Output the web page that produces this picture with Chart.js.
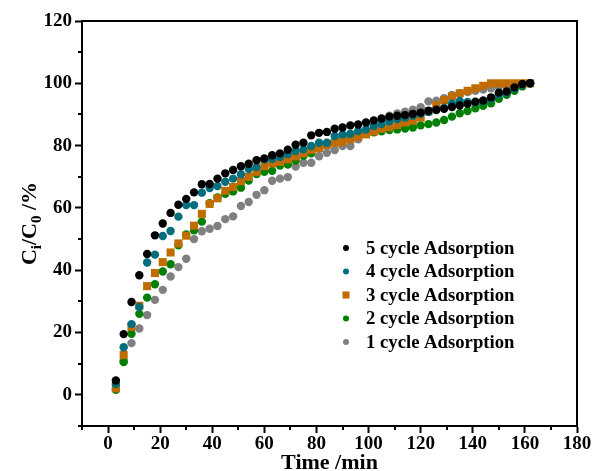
<!DOCTYPE html>
<html><head><meta charset="utf-8">
<script src="https://cdn.jsdelivr.net/npm/chart.js@4.4.0/dist/chart.umd.min.js"></script>
<style>html,body{margin:0;padding:0;background:#fff;}</style>
</head><body>
<canvas id="c" width="595" height="471" style="display:block;width:595px;height:471px"></canvas>
<script>
const times = [3,6,9,12,15,18,21,24,27,30,33,36,39,42,45,48,51,54,57,60,63,66,69,72,75,78,81,84,87,90,93,96,99,102,105,108,111,114,117,120,123,126,129,132,135,138,141,144,147,150,153,156,159,162];
const cycle5 = [4.6,19.5,29.8,38.4,45.2,51.2,55.0,58.4,61.0,62.9,65.0,67.6,67.7,69.4,71.1,72.2,73.4,74.2,75.3,75.9,76.9,77.5,78.7,80.3,80.9,83.3,84.1,84.4,85.4,85.8,86.5,86.8,87.4,88.1,88.7,89.3,89.6,89.8,90.2,90.6,91.2,91.5,91.8,92.4,92.9,93.4,94.1,94.5,95.5,97.0,97.4,98.7,99.8,100];
const cycle4 = [3.5,15.3,22.7,28.2,42.5,45.0,51.0,52.6,57.2,60.9,60.9,64.9,66.4,67.0,68.4,69.4,70.8,72.5,73.1,75.5,75.8,76.3,77.3,78.3,78.8,79.9,80.9,80.9,83.1,83.6,83.8,84.7,85.2,86.3,86.9,87.8,88.5,89.0,89.6,90.2,90.8,91.4,92.2,93.5,94.3,94.0,93.8,94.2,95.0,96.4,97.0,98.3,99.5,100];
const cycle3 = [2.1,12.8,21.8,28.6,34.9,39.1,42.6,45.7,48.6,51.1,54.3,58.1,61.3,63.1,65.5,66.7,68.6,70.0,71.6,73.4,74.3,74.8,75.6,76.5,77.5,78.6,79.1,80.2,80.9,81.2,82.0,82.9,83.6,84.5,85.4,85.9,86.6,87.4,88.0,89.0,91.0,93.0,94.6,95.8,96.8,97.6,98.4,99.2,100,100,100,100,100,100];
const cycle2 = [1.6,10.5,19.6,26.0,31.2,35.5,39.6,41.9,48.0,51.5,52.8,55.6,61.5,63.4,64.5,65.3,66.5,68.8,70.9,71.6,71.9,73.6,73.9,75.2,76.7,77.5,79.2,80.5,81.5,82.3,83.0,83.6,84.0,84.3,84.6,85.0,85.2,85.5,85.8,86.5,86.9,87.4,88.2,89.3,90.4,91.1,92.0,92.8,93.6,95.0,96.3,97.6,99.0,100];
const cycle1 = [2.0,11.0,16.6,21.3,25.6,30.5,33.7,38.0,41.0,43.7,50.0,52.5,53.3,54.2,56.4,57.3,60.6,61.9,64.2,65.7,68.7,69.4,69.9,73.3,74.5,74.5,76.6,77.7,78.6,79.9,79.9,82.0,84.5,86.5,88.3,89.6,90.3,90.9,91.5,92.3,94.2,94.4,95.2,96.3,96.8,97.2,97.6,98.0,98.4,98.8,99.1,99.4,99.7,100];
const seriesNames = ['5 cycle Adsorption','4 cycle Adsorption','3 cycle Adsorption','2 cycle Adsorption','1 cycle Adsorption'];
const xTicks = [0,20,40,60,80,100,120,140,160,180];
const yTicks = [0,20,40,60,80,100,120];
const xMinor = [-10,10,30,50,70,90,110,130,150,170];
const yMinor = [-10,10,30,50,70,90,110];

const SERIF = '"Liberation Serif","Times New Roman",serif';
const colors = ['#000000','#006e7c','#c06c00','#008000','#808080'];
const shapes = ['circle','circle','rect','circle','circle'];
const allSeries = [cycle5,cycle4,cycle3,cycle2,cycle1];

const datasets = allSeries.map((vals,i)=>({
  label: seriesNames[i],
  data: times.map((t,j)=>({x:t,y:vals[j]})),
  showLine:false,
  pointStyle: shapes[i],
  pointRadius: shapes[i]==='rect'?5.7:4.2,
  pointHoverRadius: shapes[i]==='rect'?5.7:4.2,
  backgroundColor: colors[i],
  borderColor: colors[i],
  borderWidth:0
}));

const decor = {
  id:'decor',
  afterDraw(chart){
    const ctx=chart.ctx, a=chart.chartArea;
    const xs=chart.scales.x, ys=chart.scales.y;
    ctx.save();
    ctx.strokeStyle='#000'; ctx.lineWidth=2;
    ctx.strokeRect(a.left,a.top,a.right-a.left,a.bottom-a.top);
    ctx.beginPath();
    xMinor.forEach(v=>{const px=Math.round(xs.getPixelForValue(v)); ctx.moveTo(px,a.bottom); ctx.lineTo(px,a.bottom+4);});
    yMinor.forEach(v=>{const py=Math.round(ys.getPixelForValue(v)); ctx.moveTo(a.left,py); ctx.lineTo(a.left-4,py);});
    ctx.stroke();
    ctx.fillStyle='#000';
    ctx.font='bold 22px '+SERIF;
    ctx.textAlign='center'; ctx.textBaseline='alphabetic';
    ctx.fillText('Time /min',(a.left+a.right)/2,469);
    ctx.save();
    ctx.translate(36,(a.top+a.bottom)/2);
    ctx.rotate(-Math.PI/2);
    const big='bold 22px '+SERIF, small='bold 15px '+SERIF;
    const parts=[['C',big,0],['i',small,5],['/C',big,0],['0',small,5],[' /%',big,0]];
    let w=0; parts.forEach(p=>{ctx.font=p[1]; w+=ctx.measureText(p[0]).width;});
    let x=-w/2;
    ctx.textAlign='left';
    parts.forEach(p=>{ctx.font=p[1]; ctx.fillText(p[0],x,p[2]); x+=ctx.measureText(p[0]).width;});
    ctx.restore();
    const ly=[248,271.5,295,318.5,342];
    ctx.font='bold 18.7px '+SERIF; ctx.textBaseline='middle'; ctx.textAlign='left';
    chart.data.datasets.forEach((d,i)=>{
      ctx.fillStyle=d.backgroundColor; ctx.strokeStyle=d.backgroundColor; ctx.lineWidth=0;
      Chart.helpers.drawPoint(ctx,{pointStyle:d.pointStyle,radius:d.pointStyle==='rect'?5:3,rotation:0,borderWidth:0},346,ly[i]);
      ctx.fillStyle='#000';
      ctx.fillText(d.label,366,ly[i]+1);
    });
    ctx.restore();
  }
};

new Chart(document.getElementById('c'),{
  type:'scatter',
  data:{datasets},
  plugins:[decor],
  options:{
    responsive:false, animation:false, devicePixelRatio:1,
    layout:{padding:{left:0,right:18,top:21,bottom:0}},
    plugins:{legend:{display:false},tooltip:{enabled:false}},
    scales:{
      x:{type:'linear',min:-10,max:180,
        afterBuildTicks:s=>{s.ticks=xTicks.map(v=>({value:v}));},
        afterFit:s=>{s.height=45;},
        grid:{drawOnChartArea:false,drawTicks:true,tickLength:7,tickWidth:2,color:'#000'},
        border:{display:true,width:2,color:'#000'},
        ticks:{color:'#000',font:{family:SERIF,size:19,weight:'bold'},padding:0,maxRotation:0,autoSkip:false}
      },
      y:{type:'linear',min:-10,max:120,
        afterBuildTicks:s=>{s.ticks=yTicks.map(v=>({value:v}));},
        afterFit:s=>{s.width=82;},
        grid:{drawOnChartArea:false,drawTicks:true,tickLength:7,tickWidth:2,color:'#000'},
        border:{display:true,width:2,color:'#000'},
        ticks:{color:'#000',font:{family:SERIF,size:19,weight:'bold'},padding:3,autoSkip:false}
      }
    }
  }
});
</script>
</body></html>
